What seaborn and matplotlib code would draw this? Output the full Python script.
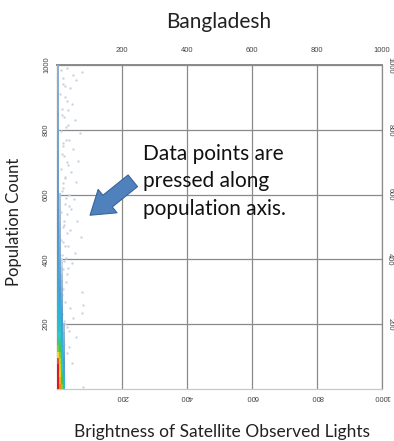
import matplotlib
matplotlib.use("Agg")
import matplotlib.pyplot as plt
from matplotlib.colors import LinearSegmentedColormap
import seaborn as sns
import pandas as pd

# ---- data ----
title = "Bangladesh"
x_label = "Brightness of Satellite Observed Lights"
y_label = "Population Count"
note = "Data points are\npressed along\npopulation axis."
tick_values = [200, 400, 600, 800, 1000]

# dense columns hugging the population axis (level = local point density)
colA_pop = [10, 30, 50, 70, 90, 110, 130, 150, 170, 190,
            210, 230, 250, 270, 290, 310, 330, 350, 370, 390,
            410, 430, 450, 470, 490, 510, 530, 550, 570, 590,
            610, 630, 650, 670, 690, 710, 730, 750, 770, 790,
            810, 830, 850, 870, 890, 910, 930, 950, 970, 990]
colA_level = [10, 10, 10, 10, 9.5, 8, 6.5, 5.5, 5, 4.6,
              4.4, 4.2, 4, 3.9, 3.8, 3.7, 3.6, 3.5, 3.4, 3.3,
              3.3, 3.2, 3.2, 3.1, 3.1, 3, 3, 3, 2.9, 2.9,
              2.9, 2.8, 2.8, 2.8, 2.7, 2.7, 2.7, 2.6, 2.6, 2.6,
              2.5, 2.5, 2.5, 2.4, 2.4, 2.4, 2.3, 2.3, 2.3, 2.2]
colB_pop = [10, 30, 50, 70, 90, 110, 130, 150, 170, 190,
            210, 230, 250, 270, 290, 310, 330, 350, 370, 390,
            410, 430, 450, 470, 490, 510, 530, 550, 570, 590]
colB_level = [9, 8.5, 8, 7.5, 7, 6.5, 6, 5.5, 5, 4.5,
              4.2, 4, 3.8, 3.5, 3.2, 3.0, 2.9, 2.8, 2.7, 2.6,
              2.5, 2.4, 2.3, 2.2, 2.1, 2.0, 1.9, 1.8, 1.7, 1.6]
colC_pop = [10, 30, 50, 70, 90, 110, 130, 150, 170, 190,
            210, 230, 250, 270, 290, 310, 330, 350, 370, 390]
colC_level = [6.5, 6, 5.5, 5, 4.5, 4.2, 4, 3.8, 3.6, 3.4,
              3.2, 3, 2.8, 2.6, 2.4, 2.2, 2, 1.8, 1.5, 1.2]
colD_pop = [10, 30, 50, 70, 90, 110, 130, 150, 170, 190]
colD_level = [4.2, 4, 3.6, 3.2, 3, 2.8, 2.6, 2.4, 2.2, 1.9]
colA_bright, colB_bright, colC_bright, colD_bright = 2, 8, 14, 20

# faint speckle next to the band
near_bright = [12, 18, 25, 10, 30, 15, 22, 35, 12, 28,
               20, 16, 32, 11, 24, 19, 14, 27, 38, 13,
               21, 17, 30, 12, 26, 15, 23, 34, 11, 29,
               18, 14, 25, 40, 16, 22, 31, 13, 20, 36]
near_pop = [985, 960, 935, 910, 890, 865, 840, 815, 795, 770,
            750, 725, 700, 680, 655, 635, 610, 590, 565, 545,
            520, 500, 480, 460, 440, 415, 395, 375, 350, 330,
            310, 290, 270, 250, 230, 210, 190, 170, 150, 130]

# sparse outlying points
sparse_bright = [30, 50, 77, 20, 40, 60, 25, 45, 35, 15,
                 55, 28, 70, 38, 18, 48, 22, 65, 33, 42,
                 26, 58, 19, 36, 52, 24, 44, 30, 62, 21,
                 40, 75, 17, 35, 55, 28, 46, 20, 32, 78,
                 80, 77, 50, 25, 38, 60, 22, 30, 45, 80]
sparse_pop = [990, 970, 978, 940, 930, 955, 900, 880, 860, 845,
              830, 810, 790, 770, 760, 740, 720, 705, 690, 670,
              650, 640, 620, 600, 585, 570, 555, 540, 520, 505,
              490, 470, 455, 440, 420, 405, 390, 370, 355, 300,
              260, 235, 220, 200, 180, 160, 140, 110, 80, 5]

# ---- build tables (outer columns first so the axis-hugging column sits on top) ----
dense = pd.DataFrame({
    "brightness": ([colD_bright] * len(colD_pop) + [colC_bright] * len(colC_pop)
                   + [colB_bright] * len(colB_pop) + [colA_bright] * len(colA_pop)),
    "population": colD_pop + colC_pop + colB_pop + colA_pop,
    "level": colD_level + colC_level + colB_level + colA_level,
})
faint = pd.DataFrame({"brightness": near_bright + sparse_bright,
                      "population": near_pop + sparse_pop})

sns.set_style("white")
plt.rcParams["font.family"] = ["Lato", "DejaVu Sans"]

fig = plt.figure(figsize=(3.94, 4.41), dpi=100)
ax = fig.add_axes([57 / 394, 52 / 441, 325 / 394, 324 / 441])

cmap = LinearSegmentedColormap.from_list(
    "dens", ["#d3dce6", "#9ab6d2", "#5a96cc", "#2cb4dc", "#30c8c0",
             "#44c454", "#a8d830", "#f0d820", "#f08a20", "#e01a1a"])

bar_marker = [(-0.3, -1), (0.3, -1), (0.3, 1), (-0.3, 1)]
sns.scatterplot(data=faint, x="brightness", y="population", ax=ax, color="#ccd5df",
                s=3, linewidth=0, legend=False, zorder=3)
sns.scatterplot(data=dense, x="brightness", y="population", hue="level", palette=cmap,
                hue_norm=(1, 10), marker=bar_marker, s=45, linewidth=0, legend=False,
                ax=ax, zorder=4)

ax.set_xlim(0, 1000)
ax.set_ylim(0, 1000)
ax.set_xticks(tick_values)
ax.set_yticks(tick_values)
ax.set_xticklabels([str(v) for v in tick_values])
ax.set_yticklabels([str(v) for v in tick_values])
ax.grid(True, color="#8a8a8a", linewidth=0.9)
ax.set_axisbelow(True)
for side, sp in ax.spines.items():
    sp.set_color("#8a8a8a")
    sp.set_linewidth(0.9)
ax.spines["bottom"].set_color("#c8c8c8")
ax.spines["top"].set_linewidth(1.4)

tick_font = dict(fontsize=5.5, color="#444444", family="Liberation Sans")
ax.tick_params(axis="both", length=0, labelsize=5.5, labelcolor="#444444")
ax.tick_params(axis="x", pad=3)
ax.tick_params(axis="y", pad=5)
for t in ax.xaxis.get_major_ticks():
    t.label1.set_rotation(180)
    t.label1.set_fontfamily("Liberation Sans")
for t in ax.yaxis.get_major_ticks():
    t.label1.set_rotation(90)
    t.label1.set_va("center")
    t.label1.set_fontfamily("Liberation Sans")

top = ax.secondary_xaxis("top")
top.set_xticks(tick_values)
top.set_xticklabels([str(v) for v in tick_values], **tick_font)
top.tick_params(length=0, pad=8)
top.spines["top"].set_visible(False)

right = ax.secondary_yaxis("right")
right.set_yticks(tick_values)
right.set_yticklabels([str(v) for v in tick_values], rotation=270, va="center", **tick_font)
right.tick_params(length=0, pad=3)
right.spines["right"].set_visible(False)

ax.set_xlabel("")
ax.set_ylabel("")

fig.text(219 / 394, 1 - 22 / 441, title, ha="center", va="center", fontsize=15, color="#222222")
fig.text(222 / 394, 1 - 432 / 441, x_label, ha="center", va="center", fontsize=12.5, color="#222222")
fig.text(14 / 394, 1 - 222 / 441, y_label, ha="center", va="center", rotation=90, fontsize=12, color="#222222")

ax.text(265, 757, note, ha="left", va="top", fontsize=15, linespacing=1.48, color="#111111", zorder=6)
ax.annotate("", xy=(95, 531), xytext=(240, 648),
            arrowprops=dict(arrowstyle="simple,head_length=0.9,head_width=1.2,tail_width=0.6",
                            mutation_scale=18, fc="#4f81bd", ec="#3a6599", lw=0.8),
            zorder=6)

fig.savefig("out.png", dpi=100)
